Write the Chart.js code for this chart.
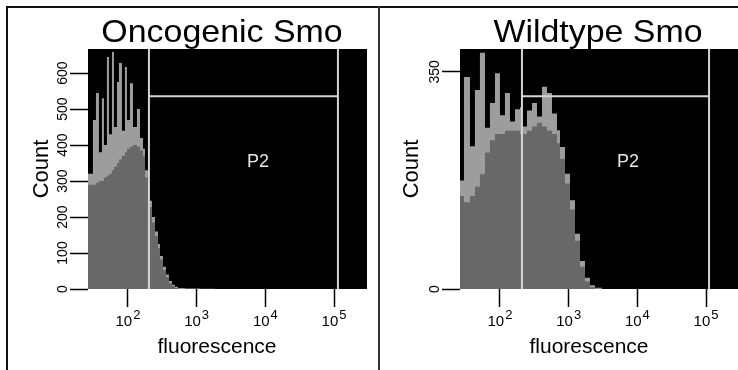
<!DOCTYPE html>
<html><head><meta charset="utf-8">
<script src="https://cdn.jsdelivr.net/npm/chart.js@4.4.1/dist/chart.umd.min.js"></script>
<style>
html,body{margin:0;padding:0;background:#fff;}
#wrap{position:relative;width:738px;height:370px;overflow:hidden;font-family:"Liberation Sans",Arial,sans-serif;}
.line{position:absolute;background:#111;}
.title{position:absolute;top:15px;font-size:32px;line-height:32px;color:#000;white-space:nowrap;transform:translateX(-50%) scaleX(1.06);}
canvas{position:absolute;top:0;}
</style></head>
<body>
<div id="wrap">
  <canvas id="c1" width="378" height="370" style="left:0px"></canvas>
  <canvas id="c2" width="357" height="370" style="left:381px"></canvas>
  <div class="title" style="left:222px">Oncogenic Smo</div>
  <div class="title" style="left:598px">Wildtype Smo</div>
  <div class="line" style="left:6px;top:6px;width:732px;height:2px"></div>
  <div class="line" style="left:6px;top:6px;width:2px;height:364px"></div>
  <div class="line" style="left:378px;top:6px;width:2px;height:364px;background:#333"></div>
</div>
<script>
// ---- data ----
const xTickValues = [100, 1000, 10000, 100000];
const xTickBase = '10';
const xTickExponents = ['2', '3', '4', '5'];

const fluorEdgesOnco = [26.2, 30.9, 34.2, 37.8, 41.8, 44.7, 49.4, 52.9, 58.5, 62.5, 69.1, 73.9, 81.8, 90.4, 96.7, 106.9, 118.3, 135.2, 149.6, 165.4, 176.9, 195.6, 209.1, 223.6, 247.3, 273.5, 292.4, 323.4, 357.6, 395.4, 437.3, 483.5, 534.7, 676, 1118, 1849, 5985];
const countsOncoPeak = [660, 320, 470, 545, 380, 530, 400, 645, 430, 659, 450, 575, 628, 440, 617, 470, 572, 450, 500, 420, 390, 330, 285, 245, 200, 160, 125, 92, 62, 40, 22, 12, 6, 3, 1.5, 0.8];
const countsOncoBase = [660, 290, 290, 295, 300, 300, 310, 315, 320, 330, 340, 350, 360, 370, 380, 390, 395, 400, 395, 385, 370, 310, 268, 228, 185, 147, 113, 82, 53, 33, 16, 8, 3, 1, 0, 0];
const yTicksOnco = [0, 100, 200, 300, 400, 500, 600];
const xRangeOnco = [26.2, 302000];
const yMaxOnco = 667;
const gateOnco = [202, 114000, 536];
const gateLabelOnco = [7800, 352];

const fluorEdgesWild = [26.2, 29.9, 36.6, 43.2, 51.1, 60.5, 71.5, 84.6, 100, 118.3, 139.8, 165.4, 195.6, 209.1, 247.3, 292.4, 345.8, 408.9, 483.5, 571.8, 676.1, 747.6, 884.2, 1045.7, 1236.6, 1462.2, 1729.2, 2044.9, 2418.3, 3058, 9247];
const countsWildPeak = [384, 175, 342, 230, 321, 381, 260, 300, 348, 280, 316, 270, 290, 293, 262, 288, 300, 278, 326, 316, 283, 256, 229, 186, 143, 89, 45, 18, 6, 2];
const countsWildBase = [384, 150, 140, 150, 165, 185, 220, 240, 250, 250, 255, 255, 255, 250, 250, 255, 262, 268, 262, 255, 250, 235, 210, 170, 128, 78, 36, 12, 3, 0.5];
const yTicksWild = [0, 350];
const xRangeWild = [26.2, 292000];
const yMaxWild = 387;
const gateWild = [209, 110600, 311];
const gateLabelWild = [7300, 204];

const gateName = 'P2';
const xTitle = 'fluorescence';
const yTitle = 'Count';

// ---- helpers ----
function histPoints(edges, counts) {
  return edges.map((e, i) => ({ x: e, y: i < counts.length ? counts[i] : 0 }));
}
const FONT = '"Liberation Sans", Arial, sans-serif';

const plotBg = {
  id: 'plotBg',
  beforeDraw(chart) {
    const { ctx, chartArea: a } = chart;
    ctx.save(); ctx.fillStyle = '#000';
    ctx.fillRect(a.left, a.top, a.right - a.left, a.bottom - a.top);
    ctx.restore();
  }
};
const gateText = {
  id: 'gateText',
  afterDatasetsDraw(chart, args, o) {
    const { ctx } = chart;
    const x = chart.scales.x.getPixelForValue(o.pos[0]);
    const y = chart.scales.y.getPixelForValue(o.pos[1]);
    ctx.save(); ctx.fillStyle = '#e6e6e6'; ctx.font = '18px ' + FONT;
    ctx.textAlign = 'center'; ctx.textBaseline = 'middle';
    ctx.fillText(o.text, x, y); ctx.restore();
  }
};
// decade labels "10" with a raised exponent, placed at the scale's own tick positions
const powerLabels = {
  id: 'powerLabels',
  afterDraw(chart) {
    const { ctx } = chart;
    const s = chart.scales.x;
    ctx.save(); ctx.fillStyle = '#000'; ctx.textBaseline = 'alphabetic';
    s.ticks.forEach(t => {
      const i = xTickValues.indexOf(t.value);
      if (i < 0) return;
      const px = s.getPixelForValue(t.value);
      ctx.font = '15px ' + FONT;
      const wb = ctx.measureText(xTickBase).width;
      ctx.font = '13px ' + FONT;
      const we = ctx.measureText(xTickExponents[i]).width;
      const x0 = px - (wb + 1 + we) / 2;
      ctx.font = '15px ' + FONT; ctx.textAlign = 'left';
      ctx.fillText(xTickBase, x0, s.top + 37);
      ctx.font = '13px ' + FONT;
      ctx.fillText(xTickExponents[i], x0 + wb + 1, s.top + 30);
    });
    ctx.restore();
  }
};
const xAxisTitle = {
  id: 'xAxisTitle',
  afterDraw(chart, args, o) {
    const { ctx } = chart;
    ctx.save(); ctx.fillStyle = '#000'; ctx.font = '21px ' + FONT;
    ctx.textAlign = 'center'; ctx.textBaseline = 'middle';
    ctx.fillText(o.text, chart.chartArea.left + o.dx, o.y); ctx.restore();
  }
};

function makeChart(id, p) {
  const gateColor = '#d4d4d4';
  return new Chart(document.getElementById(id), {
    type: 'line',
    data: {
      datasets: [
        { data: [{ x: p.gate[0], y: 0 }, { x: p.gate[0], y: p.yMax }], borderColor: gateColor, borderWidth: 2, pointRadius: 0, fill: false, order: 0 },
        { data: [{ x: p.gate[1], y: 0 }, { x: p.gate[1], y: p.yMax }], borderColor: gateColor, borderWidth: 2, pointRadius: 0, fill: false, order: 0 },
        { data: [{ x: p.gate[0], y: p.gate[2] }, { x: p.gate[1], y: p.gate[2] }], borderColor: gateColor, borderWidth: 2, pointRadius: 0, fill: false, order: 0 },
        { data: histPoints(p.edges, p.base), stepped: 'after', borderWidth: 0, pointRadius: 0, fill: 'origin', backgroundColor: '#686868', order: 1 },
        { data: histPoints(p.edges, p.peak), stepped: 'after', borderWidth: 0, pointRadius: 0, fill: 'origin', backgroundColor: '#9d9d9d', order: 2 }
      ]
    },
    options: {
      responsive: false, animation: false, devicePixelRatio: 1,
      layout: { padding: { top: 49, left: 0, right: p.padRight, bottom: 0 } },
      plugins: {
        legend: { display: false }, tooltip: { enabled: false },
        gateText: { text: gateName, pos: p.label },
        xAxisTitle: { text: xTitle, dx: 129, y: 347 }
      },
      scales: {
        x: {
          type: 'logarithmic', min: p.xRange[0], max: p.xRange[1],
          afterBuildTicks: s => { s.ticks = xTickValues.map(v => ({ value: v })); },
          afterFit: s => { s.height = 81; },
          ticks: { display: false, autoSkip: false, maxRotation: 0, minRotation: 0 },
          grid: { drawOnChartArea: false, drawTicks: true, tickLength: 18, tickColor: '#000', tickWidth: 1.5 },
          border: { display: false }
        },
        y: {
          type: 'linear', min: 0, max: p.yMax,
          afterBuildTicks: s => { s.ticks = p.yTicks.map(v => ({ value: v })); },
          afterFit: s => { s.width = p.yWidth; },
          ticks: { minRotation: 90, maxRotation: 90, crossAlign: 'center', padding: -5, color: '#000',
                   font: { size: 14, family: FONT } },
          grid: { drawOnChartArea: false, drawTicks: true, tickLength: 18, tickColor: '#000', tickWidth: 1.5 },
          border: { display: false },
          title: { display: true, text: yTitle, color: '#000', font: { size: 22, family: FONT }, padding: { top: p.yTitlePad, bottom: 0 } }
        }
      }
    },
    plugins: [plotBg, gateText, powerLabels, xAxisTitle]
  });
}

makeChart('c1', { edges: fluorEdgesOnco, peak: countsOncoPeak, base: countsOncoBase, yTicks: yTicksOnco,
  xRange: xRangeOnco, yMax: yMaxOnco, gate: gateOnco, label: gateLabelOnco, yWidth: 88, yTitlePad: 29, padRight: 11 });
makeChart('c2', { edges: fluorEdgesWild, peak: countsWildPeak, base: countsWildBase, yTicks: yTicksWild,
  xRange: xRangeWild, yMax: yMaxWild, gate: gateWild, label: gateLabelWild, yWidth: 79, yTitlePad: 18, padRight: 0 });
</script>
</body></html>
